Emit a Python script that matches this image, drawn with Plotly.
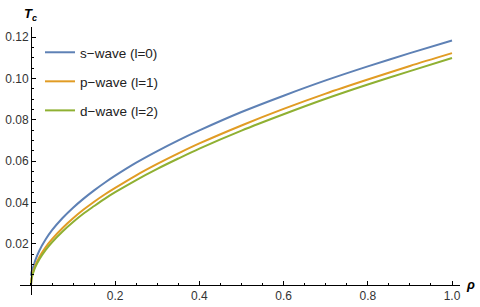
import plotly.graph_objects as go

rho = [0, 0.001, 0.002, 0.004, 0.007, 0.01, 0.02, 0.035, 0.05, 0.075, 0.1, 0.125, 0.15, 0.175, 0.2, 0.25, 0.3, 0.35, 0.4, 0.5, 0.6, 0.7, 0.8, 0.9, 1.0]
s_wave = [0.0045, 0.0060, 0.0068, 0.0080, 0.0098, 0.0118, 0.0167, 0.0221, 0.0265, 0.0324, 0.0374, 0.0418, 0.0458, 0.0495, 0.0529, 0.0592, 0.0648, 0.0700, 0.0748, 0.0837, 0.0916, 0.0990, 0.1058, 0.1122, 0.1183]
p_wave = [0, 0.0027, 0.0039, 0.0056, 0.0076, 0.0093, 0.0136, 0.0184, 0.0222, 0.0276, 0.0323, 0.0365, 0.0403, 0.0438, 0.0470, 0.0531, 0.0586, 0.0637, 0.0685, 0.0772, 0.0852, 0.0926, 0.0994, 0.1060, 0.1122]
d_wave = [0, 0.0024, 0.0035, 0.0051, 0.0069, 0.0085, 0.0125, 0.0170, 0.0207, 0.0259, 0.0305, 0.0346, 0.0382, 0.0417, 0.0449, 0.0508, 0.0562, 0.0612, 0.0660, 0.0747, 0.0826, 0.0901, 0.0970, 0.1035, 0.1098]

names = ["s\u2212wave (l=0)", "p\u2212wave (l=1)", "d\u2212wave (l=2)"]
colors = ["#5E81B5", "#E19C24", "#8FB032"]
x_ticks = [0.2, 0.4, 0.6, 0.8, 1.0]
x_labels = ["0.2", "0.4", "0.6", "0.8", "1.0"]
y_ticks = [0.02, 0.04, 0.06, 0.08, 0.10, 0.12]
y_labels = ["0.02", "0.04", "0.06", "0.08", "0.10", "0.12"]

fig = go.Figure()
for i, (name, ys) in enumerate(zip(names, [s_wave, p_wave, d_wave])):
    fig.add_trace(go.Scatter(x=rho, y=ys, mode="lines", name=name,
                             line=dict(color=colors[i], width=2, shape="spline", smoothing=0.8),
                             legendgroup=f"g{i}"))

L, R, T, B = 20, 20, 27, 12
W, H = 480, 307
pw = W - L - R
ph = H - T - B
xr = [-0.0261, 1.019]
yr = [-0.00484, 0.12484]
xpos = (0 - yr[0]) / (yr[1] - yr[0])
ypos = (0 - xr[0]) / (xr[1] - xr[0])

tickfont = dict(family="Liberation Sans, Arial, sans-serif", size=12, color="#333333")
fig.update_layout(
    width=W, height=H,
    margin=dict(l=L, r=R, t=T, b=B, autoexpand=False),
    paper_bgcolor="white", plot_bgcolor="white",
    showlegend=True,
    legend=dict(x=(40 - L) / pw, y=(H - B - 37) / ph, xanchor="left", yanchor="top",
                bgcolor="rgba(0,0,0,0)", borderwidth=0, tracegroupgap=8.5,
                font=dict(family="Liberation Sans, Arial, sans-serif", size=13.5, color="#222222")),
    xaxis=dict(range=xr, anchor="free", position=xpos, showgrid=False, zeroline=False,
               automargin=False,
               showline=True, linecolor="black", linewidth=1,
               tickmode="array", tickvals=x_ticks, ticktext=x_labels,
               ticks="inside", ticklen=4, tickcolor="black", tickfont=tickfont,
               minor=dict(tickmode="linear", tick0=0, dtick=0.05, ticks="inside", ticklen=2, tickcolor="black")),
    yaxis=dict(range=yr, anchor="free", position=ypos, showgrid=False, zeroline=False,
               automargin=False,
               showline=True, linecolor="black", linewidth=1,
               tickmode="array", tickvals=y_ticks, ticktext=y_labels,
               ticks="inside", ticklen=4, tickcolor="black", tickfont=tickfont,
               minor=dict(tickmode="linear", tick0=0, dtick=0.005, ticks="inside", ticklen=2, tickcolor="black")),
)
fig.add_annotation(text="<b><i>T</i></b><sub><b><i>c</i></b></sub>", xref="paper", yref="paper",
                   x=ypos, y=1.0, xanchor="center", yanchor="bottom", showarrow=False, yshift=2,
                   font=dict(family="Liberation Sans, Arial, sans-serif", size=13, color="black"))
fig.add_annotation(text="<b><i>\u03c1</i></b>", xref="paper", yref="paper",
                   x=1.0, y=xpos, xanchor="left", yanchor="middle", xshift=4, showarrow=False,
                   font=dict(family="Liberation Sans, Arial, sans-serif", size=13, color="black"))
fig.write_html("out.html", config={"displayModeBar": False},
               post_script="document.body.style.margin='0';document.body.style.overflow='hidden';")
